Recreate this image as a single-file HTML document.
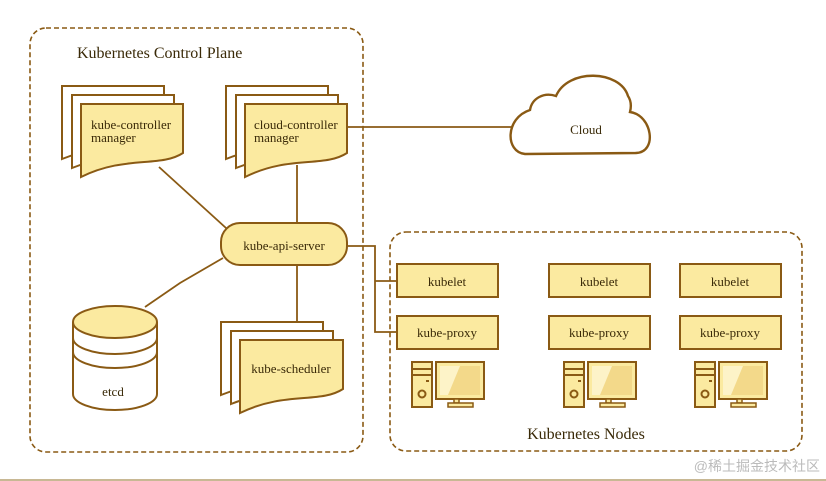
<!DOCTYPE html>
<html><head><meta charset="utf-8"><style>
html,body{margin:0;padding:0;background:#fff;}
svg{display:block;}
text{font-family:"Liberation Serif",serif;fill:#3a2a08;}
</style></head><body>
<svg width="826" height="481" viewBox="0 0 826 481" xmlns="http://www.w3.org/2000/svg">
<defs>
<g id="comp">
 <rect x="0" y="0" width="20" height="45" fill="#fbeaa0" stroke="#8a5a14" stroke-width="2"/>
 <line x1="0" y1="7" x2="20" y2="7" stroke="#8a5a14" stroke-width="2"/>
 <line x1="0" y1="13" x2="20" y2="13" stroke="#8a5a14" stroke-width="2"/>
 <line x1="14" y1="19" x2="17" y2="19" stroke="#8a5a14" stroke-width="2"/>
 <circle cx="10" cy="32" r="3.5" fill="none" stroke="#8a5a14" stroke-width="2"/>
 <rect x="24" y="0" width="48" height="37" fill="#fbeaa0" stroke="#8a5a14" stroke-width="2"/>
 <rect x="28" y="4" width="40" height="29" fill="#fdf3c8"/>
 <polygon points="48,4 68,4 68,33 36,33" fill="#f3d98a"/>
 <rect x="42" y="37" width="5" height="4" fill="#fbeaa0" stroke="#8a5a14" stroke-width="1.5"/>
 <rect x="36" y="41" width="25" height="4" fill="#fbeaa0" stroke="#8a5a14" stroke-width="1.5"/>
</g>
</defs>
<g fill="none" stroke="#8a5a14" stroke-width="1.6" stroke-dasharray="5,3">
 <rect x="30" y="28" width="333" height="424" rx="16"/>
 <rect x="390" y="232" width="412" height="219" rx="16"/>
</g>
<text x="77" y="58" font-size="16">Kubernetes Control Plane</text>
<text x="586" y="439" font-size="16" text-anchor="middle">Kubernetes Nodes</text>
<g stroke="#8a5a14" stroke-width="1.8" fill="none">
 <line x1="159" y1="167" x2="226" y2="228"/>
 <line x1="297" y1="165" x2="297" y2="223"/>
 <line x1="347" y1="127" x2="512" y2="127"/>
 <line x1="297" y1="265" x2="297" y2="322"/>
 <polyline points="223,258 180,283 145,307"/>
 <polyline points="347,246 375,246 375,332 397,332"/>
 <line x1="375" y1="281" x2="397" y2="281"/>
</g>
<g stroke="#8a5a14" stroke-width="2">
 <path d="M62,86 H164 V135 C140,150 110,140 62,159 Z" fill="#fff"/>
 <path d="M72,95 H174 V144 C150,159 120,149 72,168 Z" fill="#fff"/>
 <path d="M81,104 H183 V153 C160,168 125,155 81,177 Z" fill="#fbeaa0"/>
 <path d="M226,86 H328 V135 C304,150 274,140 226,159 Z" fill="#fff"/>
 <path d="M236,95 H338 V144 C314,159 284,149 236,168 Z" fill="#fff"/>
 <path d="M245,104 H347 V153 C324,168 289,155 245,177 Z" fill="#fbeaa0"/>
 <path d="M221,322 H323 V371 C299,386 269,376 221,395 Z" fill="#fff"/>
 <path d="M231,331 H333 V380 C309,395 279,385 231,404 Z" fill="#fff"/>
 <path d="M240,340 H343 V389 C320,404 285,391 240,413 Z" fill="#fbeaa0"/>
</g>
<text x="91" y="129" font-size="13">kube-controller</text>
<text x="91" y="142" font-size="13">manager</text>
<text x="254" y="129" font-size="13">cloud-controller</text>
<text x="254" y="142" font-size="13">manager</text>
<text x="291" y="373" font-size="13" text-anchor="middle">kube-scheduler</text>
<rect x="221" y="223" width="126" height="42" rx="19" fill="#fbeaa0" stroke="#8a5a14" stroke-width="2"/>
<text x="284" y="250" font-size="13" text-anchor="middle">kube-api-server</text>
<g stroke="#8a5a14" stroke-width="2" fill="#fff">
 <path d="M73,322 V394 A42,16 0 0 0 157,394 V322"/>
 <path d="M73,338 A42,16 0 0 0 157,338 M73,352 A42,16 0 0 0 157,352" fill="none"/>
 <ellipse cx="115" cy="322" rx="42" ry="16" fill="#fbeaa0"/>
</g>
<text x="113" y="396" font-size="13" text-anchor="middle">etcd</text>
<path d="M525,154 C505,152 505,118 530,110 C532,98 544,92 556,96 C568,68 620,70 628,96 C632,102 631,108 630,112 C652,115 658,152 636,153 Z" fill="#fff" stroke="#8a5a14" stroke-width="2.4"/>
<text x="586" y="134" font-size="13" text-anchor="middle">Cloud</text>
<g fill="#fbeaa0" stroke="#8a5a14" stroke-width="2">
 <rect x="397" y="264" width="101" height="33"/>
 <rect x="397" y="316" width="101" height="33"/>
 <rect x="549" y="264" width="101" height="33"/>
 <rect x="549" y="316" width="101" height="33"/>
 <rect x="680" y="264" width="101" height="33"/>
 <rect x="680" y="316" width="101" height="33"/>
</g>
<g font-size="13" text-anchor="middle">
 <text x="447" y="286">kubelet</text><text x="447" y="337">kube-proxy</text>
 <text x="599" y="286">kubelet</text><text x="599" y="337">kube-proxy</text>
 <text x="730" y="286">kubelet</text><text x="730" y="337">kube-proxy</text>
</g>
<use href="#comp" x="412" y="362"/>
<use href="#comp" x="564" y="362"/>
<use href="#comp" x="695" y="362"/>
<text x="820" y="471" font-size="14" text-anchor="end" style="font-family:'Liberation Sans','Noto Sans CJK SC',sans-serif;fill:#bbb">@稀土掘金技术社区</text>
<rect x="0" y="479" width="826" height="2" fill="#c8b894"/>
</svg>
</body></html>
